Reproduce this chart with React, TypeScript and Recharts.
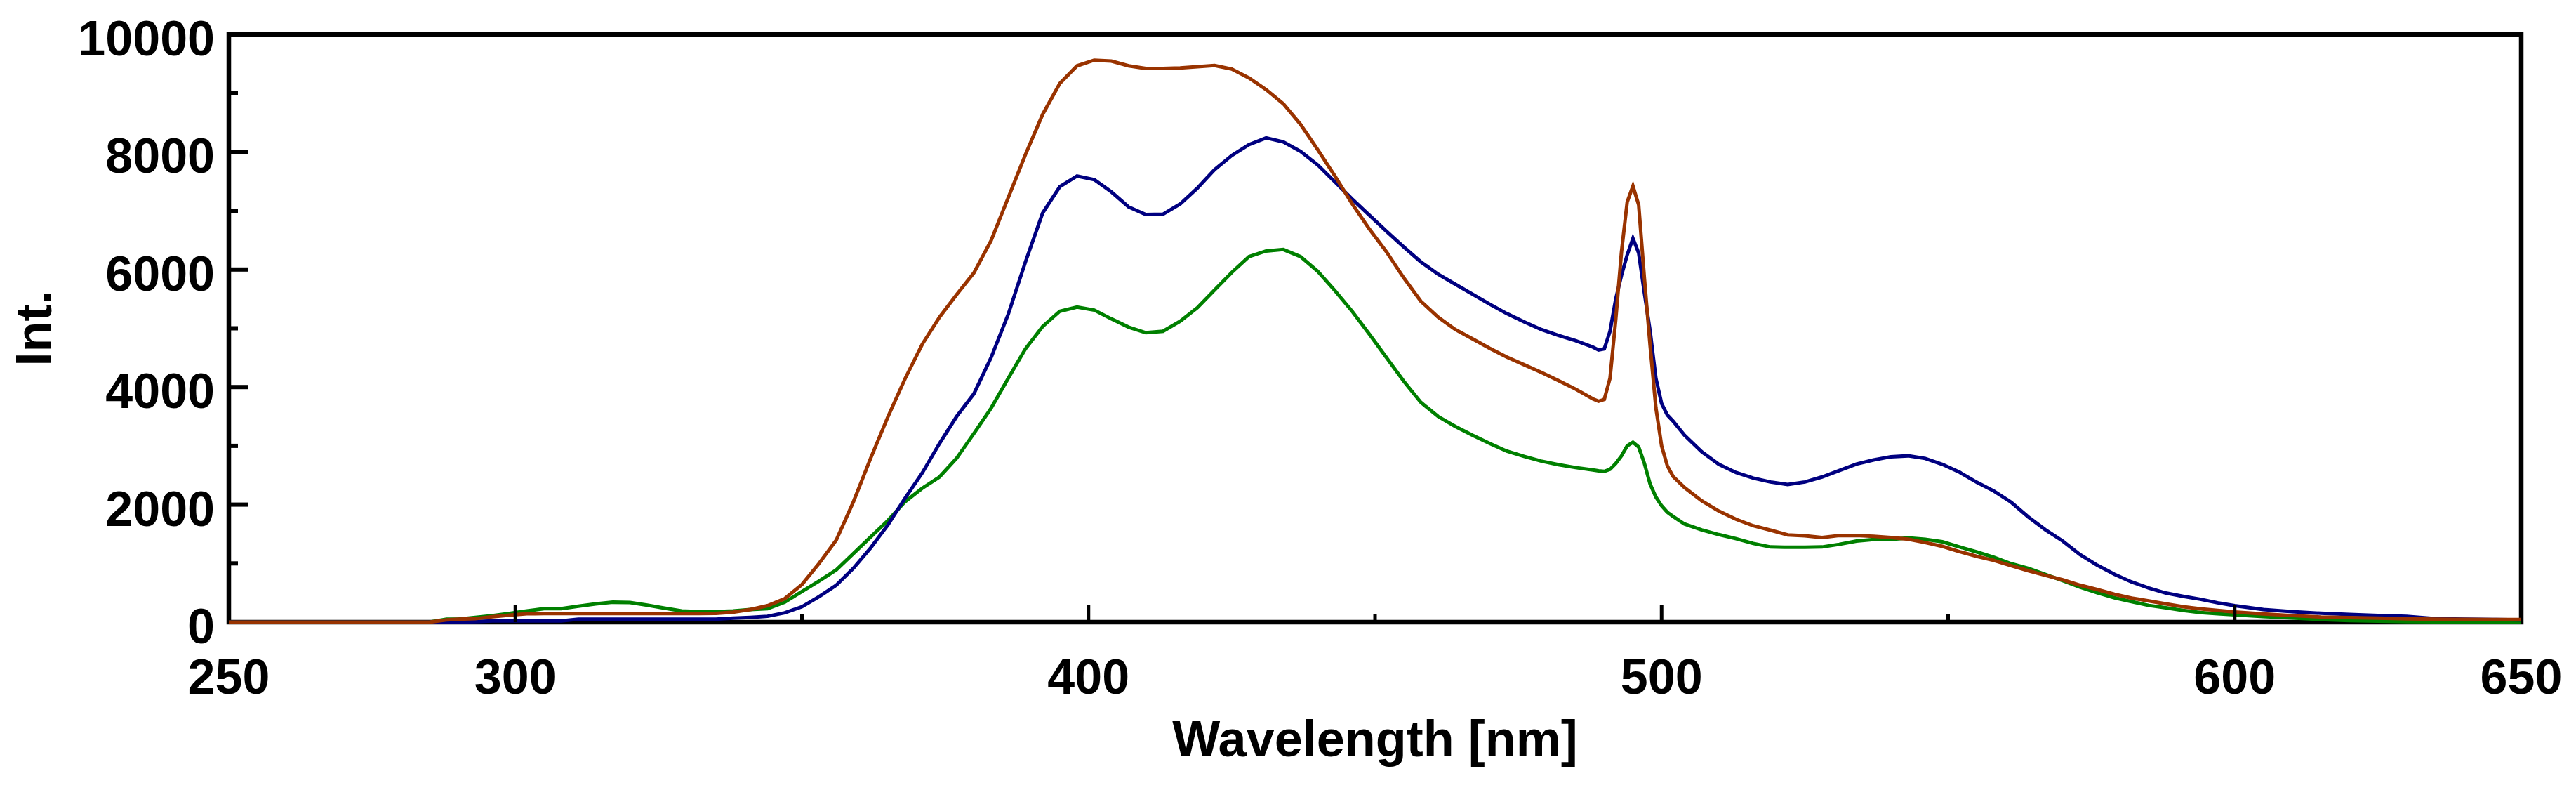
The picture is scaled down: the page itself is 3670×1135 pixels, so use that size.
import { LineChart, Line, XAxis, YAxis, ReferenceArea, Label } from "recharts";

// wavelength grid [nm], denser around the 495 nm line
const wavelengths = [
  250, 285, 288, 290, 293, 296, 299, 302, 305, 308,
  311, 314, 317, 320, 323, 326, 329, 332, 335, 338,
  341, 344, 347, 350, 353, 356, 359, 362, 365, 368,
  371, 374, 377, 380, 383, 386, 389, 392, 395, 398,
  401, 404, 407, 410, 413, 416, 419, 422, 425, 428,
  431, 434, 437, 440, 443, 446, 449, 452, 455, 458,
  461, 464, 467, 470, 473, 476, 479, 482, 485, 488,
  489, 490, 491, 492, 493, 494, 495, 496, 497, 498,
  499, 500, 501, 502, 504, 507, 510, 513, 516, 519,
  522, 525, 528, 531, 534, 537, 540, 543, 546, 549,
  552, 555, 558, 561, 564, 567, 570, 573, 576, 579,
  582, 585, 588, 591, 594, 597, 600, 605, 610, 615,
  620, 625, 630, 635, 640, 645, 650,
];

const blueIntensity = [
  0, 0, 0, 2, 10, 20, 20, 20, 20, 22,
  50, 50, 50, 50, 50, 50, 50, 50, 50, 70,
  82, 100, 160, 262, 435, 630, 920, 1265, 1655, 2110,
  2540, 3040, 3500, 3885, 4500, 5240, 6130, 6960, 7410, 7590,
  7530, 7320, 7065, 6935, 6940, 7115, 7385, 7700, 7940, 8125,
  8240, 8170, 8010, 7780, 7490, 7200, 6925, 6650, 6385, 6130,
  5920, 5750, 5580, 5410, 5250, 5110, 4980, 4880, 4790, 4680,
  4630, 4650, 4950, 5500, 5900, 6250, 6530, 6280, 5600, 4950,
  4150, 3720, 3524, 3420, 3180, 2900, 2685, 2545, 2450, 2385,
  2342, 2385, 2470, 2580, 2690, 2760, 2815, 2830, 2785, 2685,
  2550, 2380, 2230, 2040, 1790, 1570, 1380, 1150, 970, 815,
  685, 580, 495, 440, 390, 330, 280, 215, 180, 152,
  132, 115, 100, 60, 50, 45, 40,
];

const brownIntensity = [
  0, 0, 40, 52, 60, 92, 120, 143, 145, 145,
  145, 145, 145, 145, 145, 145, 145, 145, 150, 171,
  215, 280, 400, 640, 1000, 1398, 2053, 2791, 3493, 4143,
  4728, 5188, 5573, 5942, 6491, 7223, 7956, 8639, 9167, 9465,
  9562, 9546, 9466, 9420, 9420, 9430, 9450, 9470, 9410, 9260,
  9060, 8820, 8470, 8040, 7590, 7120, 6690, 6300, 5860, 5460,
  5190, 4980, 4820, 4660, 4510, 4380, 4250, 4110, 3965, 3800,
  3760, 3790, 4150, 5150, 6300, 7150, 7420, 7100, 5850, 4700,
  3650, 3000, 2660, 2480, 2290, 2064, 1890, 1750, 1640, 1565,
  1485, 1470, 1440, 1474, 1474, 1460, 1440, 1412, 1355, 1290,
  1200, 1120, 1050, 960, 875, 795, 720, 630, 555, 475,
  410, 362, 310, 262, 228, 200, 172, 140, 112, 88,
  78, 68, 58, 50, 47, 45, 44,
];

const greenIntensity = [
  0, 0, 52, 52, 80, 111, 151, 191, 231, 231,
  271, 311, 339, 335, 290, 240, 191, 180, 180, 191,
  215, 230, 340, 520, 700, 890, 1170, 1450, 1730, 2050,
  2280, 2470, 2790, 3210, 3640, 4150, 4650, 5030, 5290, 5360,
  5310, 5160, 5020, 4925, 4950, 5120, 5350, 5650, 5950, 6220,
  6315, 6340, 6220, 5970, 5640, 5290, 4900, 4500, 4100, 3740,
  3500, 3330, 3180, 3040, 2910, 2820, 2740, 2680, 2630, 2590,
  2575, 2565, 2600, 2700, 2830, 3000, 3060, 2980, 2700, 2350,
  2130, 1980, 1870, 1800, 1670, 1570, 1490, 1420, 1340, 1280,
  1274, 1274, 1280, 1325, 1380, 1406, 1406, 1435, 1410, 1368,
  1280, 1195, 1105, 995, 915, 810, 705, 595, 500, 415,
  350, 285, 245, 200, 165, 142, 125, 95, 72, 45,
  28, 18, 10, 5, 0, 0, 0,
];

const xTicks = [250, 300, 350, 400, 450, 500, 550, 600, 650];
const xTickLabels = [250, 300, 400, 500, 600, 650];
const yTicks = [0, 1000, 2000, 3000, 4000, 5000, 6000, 7000, 8000, 9000, 10000];
const yTickLabels = [0, 2000, 4000, 6000, 8000, 10000];

const data = wavelengths.map((nm, i) => ({
  nm,
  blue: blueIntensity[i],
  brown: brownIntensity[i],
  green: greenIntensity[i],
}));

const W = 3654;
const H = 1119;
const plotLeft = 318;
const plotRight = 3584;
const plotTop = 41;
const plotBottom = 878;

const font = {
  fontFamily: '"Liberation Sans", Arial, sans-serif',
  fontWeight: 700,
};

const YTick = (props: any) => {
  const { y, payload } = props;
  const v = payload.value;
  const major = v % 2000 === 0;
  return (
    <g>
      {v > 0 && v < 10000 && (
        <line
          x1={plotLeft}
          x2={plotLeft + (major ? 27 : 13)}
          y1={y}
          y2={y}
          stroke="#000"
          strokeWidth={6}
        />
      )}
      {yTickLabels.includes(v) && (
        <text x={plotLeft - 20} y={y + 30} textAnchor="end" fontSize={70} fill="#000" {...font}>
          {v}
        </text>
      )}
    </g>
  );
};

const XTick = (props: any) => {
  const { x, payload } = props;
  const v = payload.value;
  const major = v % 100 === 0;
  return (
    <g>
      {v > 250 && v < 650 && (
        <line
          x1={x}
          x2={x}
          y1={plotBottom}
          y2={plotBottom - (major ? 25 : 11)}
          stroke="#000"
          strokeWidth={5}
        />
      )}
      {xTickLabels.includes(v) && (
        <text x={x} y={plotBottom + 102} textAnchor="middle" fontSize={70} fill="#000" {...font}>
          {v}
        </text>
      )}
    </g>
  );
};

const App = () => {
  return (
    <div style={{ width: W, height: H }}>
      <LineChart
        width={W}
        height={H}
        data={data}
        margin={{ top: plotTop, right: W - plotRight, left: 0, bottom: 0 }}
      >
        <ReferenceArea
          x1={250}
          x2={650}
          y1={0}
          y2={10000}
          fill="none"
          stroke="#000"
          strokeWidth={6.5}
          fillOpacity={0}
        />
        <XAxis
          dataKey="nm"
          type="number"
          domain={[250, 650]}
          ticks={xTicks}
          interval={0}
          height={H - plotBottom}
          axisLine={false}
          tickLine={false}
          tick={<XTick />}
        >
          <Label
            content={() => (
              <text
                x={(plotLeft + plotRight) / 2}
                y={plotBottom + 191}
                textAnchor="middle"
                fontSize={72}
                fill="#000"
                {...font}
              >
                Wavelength [nm]
              </text>
            )}
          />
        </XAxis>
        <YAxis
          type="number"
          domain={[0, 10000]}
          ticks={yTicks}
          interval={0}
          width={plotLeft}
          axisLine={false}
          tickLine={false}
          tick={<YTick />}
        >
          <Label
            content={() => (
              <text
                x={65}
                y={(plotTop + plotBottom) / 2}
                transform={`rotate(-90 65 ${(plotTop + plotBottom) / 2})`}
                textAnchor="middle"
                fontSize={72}
                fill="#000"
                {...font}
              >
                Int.
              </text>
            )}
          />
        </YAxis>
        <Line
          dataKey="green"
          type="linear"
          stroke="#008000"
          strokeWidth={5}
          dot={false}
          isAnimationActive={false}
        />
        <Line
          dataKey="blue"
          type="linear"
          stroke="#000080"
          strokeWidth={5}
          dot={false}
          isAnimationActive={false}
        />
        <Line
          dataKey="brown"
          type="linear"
          stroke="#993300"
          strokeWidth={5}
          dot={false}
          isAnimationActive={false}
        />
      </LineChart>
    </div>
  );
};

export default App;
